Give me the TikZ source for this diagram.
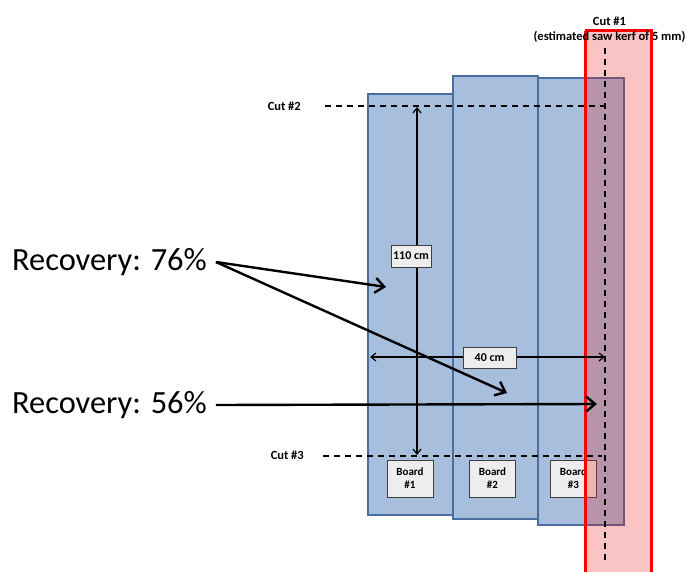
\documentclass[tikz,border=0pt]{standalone}
\usepackage{fontspec}
\setmainfont{Carlito}
\usetikzlibrary{arrows.meta}
\definecolor{boardfill}{RGB}{167,191,221}
\definecolor{boardline}{RGB}{74,110,160}
\definecolor{kerfred}{RGB}{235,20,20}
\tikzset{
  board/.style={draw=boardline, line width=1.3pt, fill=boardfill},
  tag/.style={draw=black!75, line width=0.7pt, fill=white!93!black, font=\bfseries\fontsize{11}{13}\selectfont, align=center, inner sep=2pt},
  cutlbl/.style={font=\bfseries\fontsize{12.5}{15}\selectfont, align=center, inner sep=0pt},
  cutline/.style={line width=1.3pt, dash pattern=on 6pt off 5pt},
  dim/.style={line width=1.2pt, {Straight Barb[length=5pt,width=8pt]}-{Straight Barb[length=5pt,width=8pt]}},
  pointer/.style={line width=2.4pt, -{Straight Barb[length=9pt,width=15pt]}},
  big/.style={font=\fontsize{32.4}{35}\selectfont, inner sep=0pt}
}
\begin{document}
\begin{tikzpicture}[x=1pt,y=-1pt]
\useasboundingbox (0,0) rectangle (687,572);
% boards
\node[board, minimum width=85pt, minimum height=421pt, inner sep=0pt] (b1) at (410.5,304.5) {};
\node[board, minimum width=85pt, minimum height=443pt, inner sep=0pt] (b2) at (495.5,297.5) {};
\node[board, minimum width=86pt, minimum height=447pt, inner sep=0pt] (b3) at (581,301.5) {};
% board tags
\node[tag, minimum width=46pt, minimum height=37pt] (t1) at (410,478.5) {Board\\\#1};
\node[tag, minimum width=46pt, minimum height=37pt] (t2) at (492.5,478.5) {Board\\\#2};
\node[tag, minimum width=46pt, minimum height=37pt] (t3) at (573.5,478.5) {Board\\\#3};
% kerf region
\fill[kerfred, fill opacity=0.25] (585,31) rectangle (651,575);
\draw[red, line width=3pt] (585,31) -- (585,575) (651,575) -- (651,31) -- (585,31);
% cut labels
\node[cutlbl] (c1) at (609.5,29.5) {Cut \#1\\(estimated saw kerf of 5 mm)};
\node[cutlbl, anchor=east] (c2) at (301,106) {Cut \#2};
\node[cutlbl, anchor=east] (c3) at (304,455) {Cut \#3};
% cut lines
\coordinate (c1a) at (605,48);
\coordinate (c1b) at (605,562);
\coordinate (c2a) at (325,106);
\coordinate (c2b) at (605,106);
\coordinate (c3a) at (323,456);
\coordinate (c3b) at (602,456);
\draw[cutline] (c2a) -- (c2b);
\draw[cutline] (c3a) -- (c3b);
\draw[cutline] (c1a) -- (c1b);
% dimensions
\coordinate (v1) at (417,107);
\coordinate (v2) at (417,455);
\draw[dim] (v1) -- (v2);
\node[tag, font=\bfseries\fontsize{12}{14}\selectfont, minimum width=38pt, minimum height=22pt] (l110) at (411,256) {110 cm};
\coordinate (h1) at (370,357);
\coordinate (h2) at (605,357);
\draw[dim] (h1) -- (h2);
\node[tag, font=\bfseries\fontsize{12}{14}\selectfont, minimum width=53pt, minimum height=21pt] (l40) at (489.5,357.5) {40 cm};
% recovery labels
\node[big, anchor=west] (r76) at (12,262) {Recovery: 76\%};
\node[big, anchor=west] (r56) at (12,405) {Recovery: 56\%};
\coordinate (p1) at (386,287);
\coordinate (p2) at (507,393);
\coordinate (p3) at (597,404);
\draw[pointer] ([xshift=9pt]r76.east) -- (p1);
\draw[pointer] ([xshift=9pt]r76.east) -- (p2);
\draw[pointer] ([xshift=9pt]r56.east) -- (p3);
\end{tikzpicture}
\end{document}
